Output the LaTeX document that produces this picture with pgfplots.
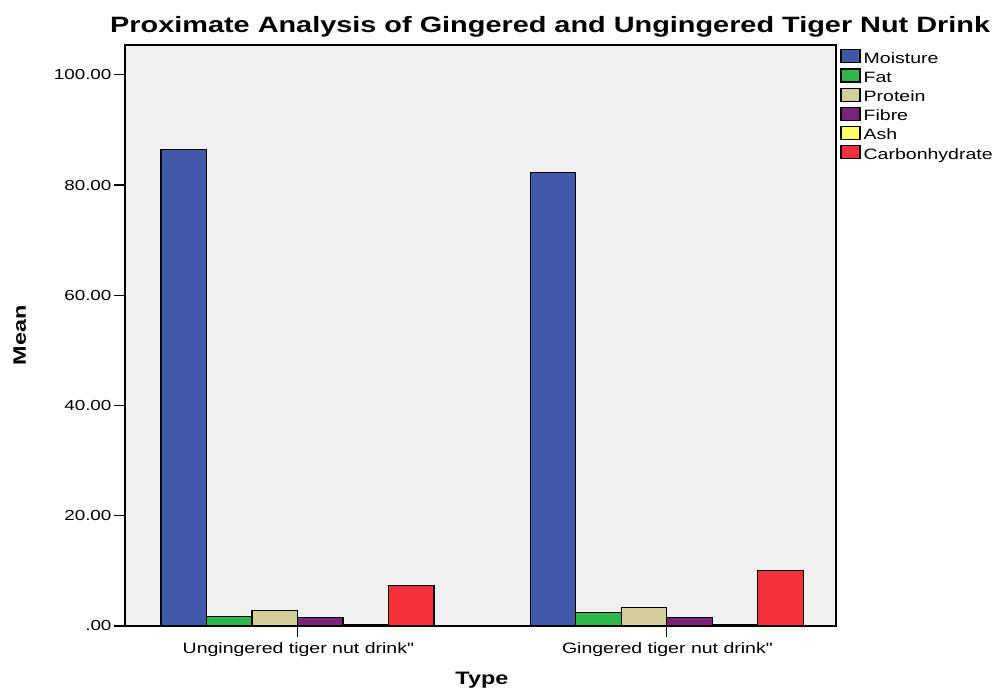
\documentclass[border=0pt]{standalone}
\usepackage{fontspec}
\setmainfont{Liberation Sans}[FakeStretch=1.3]
\usepackage{pgfplots}
\pgfplotsset{compat=1.18}
\definecolor{cMoist}{HTML}{3F59A8}
\definecolor{cFat}{HTML}{2DB84A}
\definecolor{cProt}{HTML}{D4CF98}
\definecolor{cFib}{HTML}{7A2479}
\definecolor{cAsh}{HTML}{FFFF66}
\definecolor{cCarb}{HTML}{F23238}
\definecolor{bg}{HTML}{F0F0F0}
\begin{document}
\begin{tikzpicture}
\useasboundingbox (0,0) rectangle (998pt,691pt);
\begin{axis}[
  at={(125pt,65pt)}, anchor=south west,
  scale only axis, width=711pt, height=581pt,
  axis background/.style={fill=bg},
  axis line style={black, line width=1.2pt},
  /pgf/number format/assume math mode=true,
  ybar=0pt, bar width=45.5pt,
  xmin=-0.4675, xmax=1.459,
  ymin=0, ymax=105.4,
  xtick={0,1},
  xticklabels={Ungingered tiger nut drink\textquotedbl, Gingered tiger nut drink\textquotedbl},
  ytick={0,20,40,60,80,100},
  yticklabels={.00,20.00,40.00,60.00,80.00,100.00},
  tick align=outside, tick pos=left,
  major tick length=11pt,
  tick style={black, line width=1.2pt},
  yticklabel style={font=\fontsize{14.5}{16}\selectfont, xshift=1pt},
  xticklabel style={font=\fontsize{15}{17}\selectfont, yshift=-2pt},
  title={\textbf{Proximate Analysis of Gingered and Ungingered Tiger Nut Drink}},
  title style={at={(axis description cs:0.598,1.021)}, anchor=center, font=\fontsize{22.2}{26}\selectfont},
  ylabel={\textbf{Mean}},
  ylabel style={at={(axis description cs:-0.148,0.5)}, anchor=center, rotate=0, font=\fontsize{18}{20}\selectfont},
  xlabel={\textbf{Type}},
  xlabel style={at={(axis description cs:0.502,-0.093)}, anchor=center, font=\fontsize{18}{20}\selectfont},
  legend style={at={(1.006,0.993)}, anchor=north west, draw=none, fill=none, inner sep=0pt,
    font=\fontsize{15}{16}\selectfont,
    nodes={text height=10pt, text depth=3pt, inner ysep=2.05pt, inner xsep=3pt}},
  legend cell align=left,
  legend image code/.code={\draw[#1, line width=1.2pt] (0pt,-3pt) rectangle (19pt,10pt);},
  every axis plot/.append style={draw=black, line width=1.2pt},
]
\addplot[fill=cMoist] coordinates {(0,86.4) (1,82.2)};
\addplot[fill=cFat] coordinates {(0,1.7) (1,2.5)};
\addplot[fill=cProt] coordinates {(0,2.85) (1,3.3)};
\addplot[fill=cFib] coordinates {(0,1.5) (1,1.5)};
\addplot[fill=cAsh] coordinates {(0,0.3) (1,0.3)};
\addplot[fill=cCarb] coordinates {(0,7.3) (1,10.1)};
\legend{Moisture,Fat,Protein,Fibre,Ash,Carbonhydrate}
\end{axis}
\end{tikzpicture}
\end{document}
